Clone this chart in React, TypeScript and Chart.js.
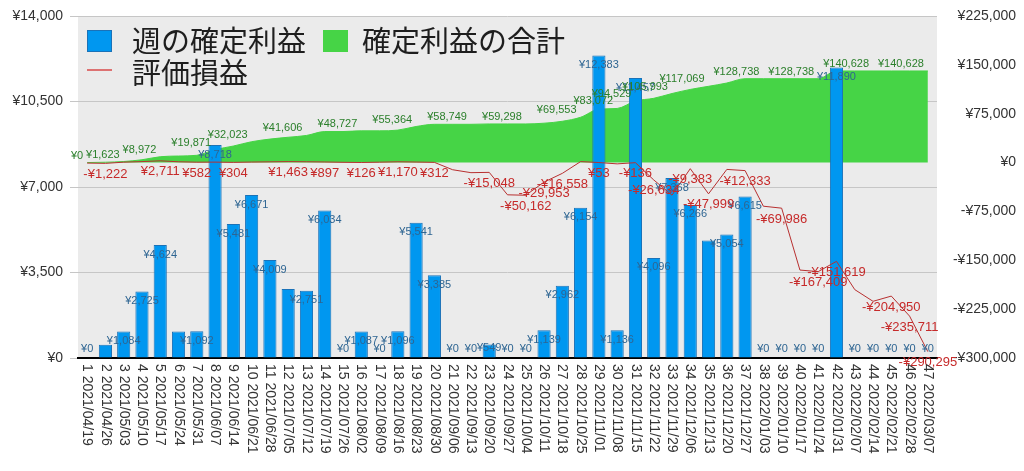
import React, { useEffect, useRef } from 'react';
import { Chart, registerables } from 'chart.js';

Chart.register(...registerables);

const weekLabels = [
  '1 2021/04/19', '2 2021/04/26', '3 2021/05/03', '4 2021/05/10', '5 2021/05/17',
  '6 2021/05/24', '7 2021/05/31', '8 2021/06/07', '9 2021/06/14', '10 2021/06/21',
  '11 2021/06/28', '12 2021/07/05', '13 2021/07/12', '14 2021/07/19', '15 2021/07/26',
  '16 2021/08/02', '17 2021/08/09', '18 2021/08/16', '19 2021/08/23', '20 2021/08/30',
  '21 2021/09/06', '22 2021/09/13', '23 2021/09/20', '24 2021/09/27', '25 2021/10/04',
  '26 2021/10/11', '27 2021/10/18', '28 2021/10/25', '29 2021/11/01', '30 2021/11/08',
  '31 2021/11/15', '32 2021/11/22', '33 2021/11/29', '34 2021/12/06', '35 2021/12/13',
  '36 2021/12/20', '37 2021/12/27', '38 2022/01/03', '39 2022/01/10', '40 2022/01/17',
  '41 2022/01/24', '42 2022/01/31', '43 2022/02/07', '44 2022/02/14', '45 2022/02/21',
  '46 2022/02/28', '47 2022/03/07',
];

const weeklyProfit = [
  0, 539, 1084, 2725, 4624, 1089, 1092, 8718, 5481, 6671,
  4009, 2823, 2751, 6034, 0, 1087, 0, 1096, 5541, 3385,
  0, 0, 549, 0, 0, 1139, 2962, 6154, 12383, 1136,
  11457, 4096, 7368, 6266, 4810, 5054, 6615, 0, 0, 0,
  0, 11890, 0, 0, 0, 0, 0,
];

const cumulativeProfit = [
  0, 539, 1623, 4348, 8972, 10061, 11153, 19871, 25352, 32023,
  36032, 38855, 41606, 47640, 47640, 48727, 48727, 49823, 55364, 58749,
  58749, 58749, 59298, 59298, 59298, 60437, 63399, 69553, 81936, 83072,
  94529, 98625, 105993, 112259, 117069, 122123, 128738, 128738, 128738, 128738,
  128738, 140628, 140628, 140628, 140628, 140628, 140628,
];

const unrealizedPnl = [
  -800, -1222, 600, 1500, 2711, 1200, 582, 700, 304, 800,
  1100, 1463, 1200, 897, 400, 126, 600, 1170, 800, 312,
  -11000, -15500, -15048, -49500, -50162, -29953, -16558, 1500, 53, -2000,
  -136, -26634, -50000, -9383, -47999, -10500, -12333, -67000, -69986, -165000,
  -167409, -151619, -195000, -213000, -204950, -235711, -290295,
];

// which data labels are visible (1-based week numbers)
const barLabelHidden = [2, 6, 12, 35];
const cumLabelShown = [1, 3, 5, 8, 10, 13, 16, 19, 22, 25, 28, 30, 31, 33, 35, 38, 41, 44, 47];
const pnlLabelShown = [2, 5, 7, 9, 12, 14, 16, 18, 20, 23, 25, 26, 27, 29, 31, 32, 34, 35, 37, 39, 41, 42, 45, 46, 47];

const leftAxis = { min: 0, max: 14000, step: 3500 };
const rightAxis = { min: -300000, max: 225000, step: 75000 };

const seriesNames = ['週の確定利益', '確定利益の合計', '評価損益'];

const BAR_FILL = '#0097f0';
const BAR_BORDER = '#1a72b8';
const AREA = '#46d446';
const LINE = '#b83030';
const BAR_LABEL = '#2e6592';
const AREA_LABEL = '#2a7f2a';
const LINE_LABEL = '#c62a2a';
const TICK = '#333333';
const FONT = '"Liberation Sans", Arial, Helvetica, sans-serif';
const CJK = '"Noto Sans CJK JP", "Noto Sans", sans-serif';

function yen(v: number): string {
  const s = '¥' + Math.abs(v).toLocaleString('en-US');
  return v < 0 ? '-' + s : s;
}

const bgPlugin = {
  id: 'plotBg',
  beforeDraw(chart: any) {
    const { ctx, chartArea: a } = chart;
    ctx.save();
    ctx.fillStyle = '#ebebeb';
    ctx.fillRect(a.left, a.top, a.right - a.left, a.bottom - a.top);
    ctx.restore();
  },
};

const dataLabelPlugin = {
  id: 'dataLabels',
  afterDatasetsDraw(chart: any) {
    const { ctx } = chart;
    ctx.save();
    ctx.textBaseline = 'middle';
    // bars
    const bars = chart.getDatasetMeta(0).data;
    ctx.font = `11px ${FONT}`;
    ctx.fillStyle = BAR_LABEL;
    ctx.textAlign = 'center';
    bars.forEach((el: any, i: number) => {
      if (barLabelHidden.includes(i + 1)) return;
      const y = Math.min(el.y + 9.5, el.base - 9.5);
      ctx.fillText(yen(weeklyProfit[i]), el.x, y);
    });
    // cumulative area
    const pts = chart.getDatasetMeta(1).data;
    ctx.font = `11px ${FONT}`;
    ctx.fillStyle = AREA_LABEL;
    ctx.textAlign = 'right';
    pts.forEach((el: any, i: number) => {
      if (!cumLabelShown.includes(i + 1)) return;
      ctx.fillText(yen(cumulativeProfit[i]), el.x - 4, el.y - 7);
    });
    // unrealized line
    const lp = chart.getDatasetMeta(2).data;
    ctx.font = `13px ${FONT}`;
    ctx.fillStyle = LINE_LABEL;
    ctx.textAlign = 'center';
    lp.forEach((el: any, i: number) => {
      if (!pnlLabelShown.includes(i + 1)) return;
      ctx.fillText(yen(unrealizedPnl[i]), el.x, el.y + 11);
    });
    ctx.restore();
  },
};

const xLabelPlugin = {
  id: 'xLabels',
  afterDraw(chart: any) {
    const { ctx, chartArea } = chart;
    const xs = chart.scales.x;
    ctx.save();
    ctx.font = `14px ${FONT}`;
    ctx.fillStyle = TICK;
    ctx.textAlign = 'left';
    ctx.textBaseline = 'middle';
    weekLabels.forEach((lab, i) => {
      const x = xs.getPixelForTick(i);
      ctx.save();
      ctx.translate(x, chartArea.bottom + 6);
      ctx.rotate(Math.PI / 2);
      ctx.fillText(lab, 0, 0);
      ctx.restore();
    });
    ctx.restore();
  },
};

const legendPlugin = {
  id: 'customLegend',
  afterDraw(chart: any) {
    const { ctx, chartArea } = chart;
    const x0 = chartArea.left + 9;
    const row1 = chartArea.top + 25;
    const row2 = chartArea.top + 57;
    ctx.save();
    ctx.font = `29px ${CJK}`;
    ctx.textBaseline = 'middle';
    ctx.textAlign = 'left';
    // bar
    ctx.fillStyle = BAR_FILL;
    ctx.fillRect(x0, row1 - 11, 25, 22);
    ctx.strokeStyle = BAR_BORDER;
    ctx.lineWidth = 1;
    ctx.strokeRect(x0 + 0.5, row1 - 10.5, 24, 21);
    ctx.fillStyle = '#1e1e1e';
    ctx.fillText(seriesNames[0], x0 + 45, row1);
    // area
    const x1 = x0 + 236;
    ctx.fillStyle = AREA;
    ctx.fillRect(x1, row1 - 11, 25, 22);
    ctx.fillStyle = '#1e1e1e';
    ctx.fillText(seriesNames[1], x1 + 39, row1);
    // line
    ctx.strokeStyle = '#d84a4a';
    ctx.lineWidth = 1.5;
    ctx.beginPath();
    ctx.moveTo(x0, row2 - 3);
    ctx.lineTo(x0 + 25, row2 - 3);
    ctx.stroke();
    ctx.fillStyle = '#1e1e1e';
    ctx.fillText(seriesNames[2], x0 + 45, row2);
    ctx.restore();
  },
};

export default function App() {
  const ref = useRef<HTMLCanvasElement | null>(null);

  useEffect(() => {
    if (!ref.current) return;
    const chart = new Chart(ref.current, {
      type: 'bar',
      data: {
        labels: weekLabels,
        datasets: [
          {
            type: 'bar',
            label: seriesNames[0],
            data: weeklyProfit,
            yAxisID: 'y',
            backgroundColor: BAR_FILL,
            borderColor: BAR_BORDER,
            borderWidth: 1,
            categoryPercentage: 0.8,
            barPercentage: 0.9,
            order: 2,
          },
          {
            type: 'line',
            label: seriesNames[1],
            data: cumulativeProfit,
            yAxisID: 'y1',
            fill: 'origin',
            backgroundColor: AREA,
            borderColor: AREA,
            borderWidth: 1,
            pointRadius: 0,
            cubicInterpolationMode: 'monotone',
            order: 3,
          },
          {
            type: 'line',
            label: seriesNames[2],
            data: unrealizedPnl,
            yAxisID: 'y1',
            fill: false,
            borderColor: LINE,
            borderWidth: 1,
            pointRadius: 0,
            tension: 0,
            order: 1,
          },
        ],
      } as any,
      options: {
        animation: false,
        responsive: true,
        maintainAspectRatio: false,
        layout: { padding: 0 },
        plugins: { legend: { display: false }, tooltip: { enabled: false } },
        scales: {
          x: {
            offset: true,
            grid: { display: false },
            border: { color: '#000000', width: 2 },
            ticks: { display: false },
            afterFit: (s: any) => { s.height = 105; },
          },
          y: {
            position: 'left',
            min: leftAxis.min,
            max: leftAxis.max,
            grid: { color: '#c6c6c6', tickLength: 8 },
            border: { display: false },
            ticks: {
              stepSize: leftAxis.step,
              padding: 7,
              color: TICK,
              font: { family: FONT, size: 14 },
              callback: (v: any) => yen(Number(v)),
            },
            afterFit: (s: any) => { s.width = 70; s.paddingTop = 8; s.paddingBottom = 8; },
          },
          y1: {
            position: 'right',
            min: rightAxis.min,
            max: rightAxis.max,
            grid: { display: false },
            border: { display: false },
            ticks: {
              stepSize: rightAxis.step,
              crossAlign: 'far',
              color: TICK,
              font: { family: FONT, size: 14 },
              callback: (v: any) => yen(Number(v)),
            },
            afterFit: (s: any) => { s.width = 79; s.paddingTop = 8; s.paddingBottom = 8; },
          },
        },
      } as any,
      plugins: [bgPlugin, dataLabelPlugin, xLabelPlugin, legendPlugin],
    });
    return () => chart.destroy();
  }, []);

  return (
    <div style={{ position: 'relative', width: 1008, height: 455 }}>
      <canvas ref={ref} />
    </div>
  );
}
